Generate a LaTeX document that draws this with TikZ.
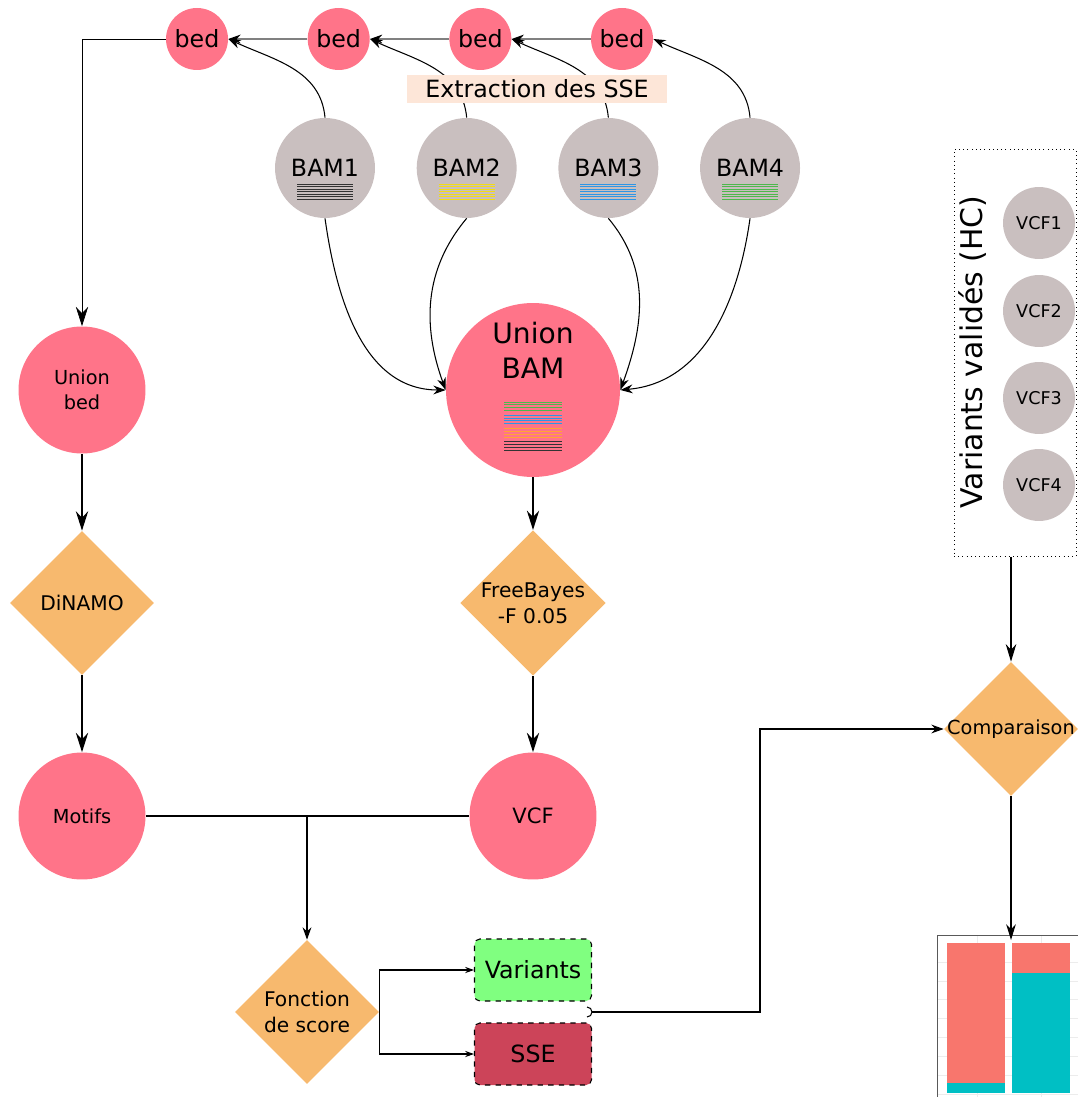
\documentclass[tikz,border=0pt]{standalone}
\usepackage{fontspec}
\setmainfont{DejaVu Sans}
\usetikzlibrary{arrows.meta,calc,positioning,shapes.geometric}
\definecolor{Pink}{HTML}{FF7489}
\definecolor{Taupe}{HTML}{C9BFBF}
\definecolor{Sand}{HTML}{F7B96E}
\definecolor{Peach}{HTML}{FDE6D8}
\definecolor{Mint}{HTML}{80FF80}
\definecolor{Crimson}{HTML}{CC4459}
\definecolor{Salmon}{HTML}{F8766D}
\definecolor{Cyan}{HTML}{00BFC4}
\definecolor{BamYellow}{HTML}{F2DC18}
\definecolor{BamBlue}{HTML}{2E96E6}
\definecolor{BamGreen}{HTML}{4DB84D}
\definecolor{BamOrange}{HTML}{FFA533}

\begin{document}
\begin{tikzpicture}[x=0.02cm,y=-0.02cm,>={Stealth[length=7pt,width=5pt]},
    bedc/.style={circle,fill=Pink,minimum size=1.24cm,inner sep=0pt,font=\fontsize{13.5}{16}\selectfont},
    bamc/.style={circle,fill=Taupe,minimum size=2cm,inner sep=0pt,font=\fontsize{13.5}{16}\selectfont},
    pinkc/.style={circle,fill=Pink,minimum size=2.54cm,inner sep=0pt,align=center,font=\fontsize{11}{14}\selectfont},
    vcfc/.style={circle,fill=Taupe,minimum size=1.44cm,inner sep=0pt,font=\fontsize{10}{12}\selectfont},
    tool/.style={diamond,fill=Sand,minimum width=2.88cm,minimum height=2.88cm,inner sep=0pt,align=center,font=\fontsize{11.5}{15}\selectfont},
    outbox/.style={draw,dashed,semithick,rounded corners=3pt,minimum width=2.34cm,minimum height=1.24cm,font=\fontsize{13.5}{16}\selectfont},
    flow/.style={thick,-{Stealth[length=11pt,width=7pt]}},
    feed/.style={semithick,->},
    tiny/.style={semithick,-{Stealth[length=5pt,width=3.5pt]}}]
  \useasboundingbox (0,0) rectangle (1078,1097);

  % SSE extraction per sample
  \node[bedc] (bed1) at (197,39) {bed};
  \node[bedc,right=1.58cm of bed1] (bed2) {bed};
  \node[bedc,right=1.58cm of bed2] (bed3) {bed};
  \node[bedc,right=1.58cm of bed3] (bed4) {bed};
  \node[bamc] (bam1) at (325,168) {BAM1};
  \node[bamc,right=0.82cm of bam1] (bam2) {BAM2};
  \node[bamc,right=0.82cm of bam2] (bam3) {BAM3};
  \node[bamc,right=0.82cm of bam3] (bam4) {BAM4};
  \foreach \n/\c in {1/black!80,2/BamYellow,3/BamBlue,4/BamGreen}
    \foreach \k in {0,...,6}
      \draw[\c,line width=0.5pt] ($(bam\n)+(-28,16+2.5*\k)$) -- ++(56,0);
  \foreach \a/\b in {bed2/bed1,bed3/bed2,bed4/bed3}{\draw[gray,semithick,-{Stealth[black,length=7pt,width=5pt]}] (\a) -- (\b);}
  \foreach \n in {1,...,4}{\draw[feed] (bam\n.north) to[out=95,in=-25] (bed\n.east);}
  \node[fill=Peach,minimum width=5.22cm,minimum height=0.56cm,inner sep=0pt,font=\fontsize{13.5}{16}\selectfont] (extract) at (537,89) {Extraction des SSE};

  % left branch: motifs
  \node[pinkc] (unionbed) at (82,390) {Union\\bed};
  \node[tool] (dinamo) at (82,603) {DiNAMO};
  \node[pinkc] (motifs) at (82,816) {Motifs};
  \draw[flow,thin] (bed1.west) -| (unionbed.north);
  \draw[flow] (unionbed) -- (dinamo);
  \draw[flow] (dinamo) -- (motifs);

  % middle branch: variant calling
  \node[circle,fill=Pink,minimum size=3.48cm] (unionbam) at (533,390) {};
  \node[font=\fontsize{16}{20}\selectfont,align=center] (unionbamtxt) at ($(unionbam)+(0,-40)$) {Union\\BAM};
  \foreach \c [count=\g from 0] in {BamGreen,BamBlue,BamOrange,black!80}
    \foreach \k in {0,...,3}
      \draw[\c,line width=0.5pt] ($(unionbam)+(-29,12+13.3*\g+2.8*\k)$) -- ++(58,0);
  \draw[feed] (bam1.south) to[out=-82,in=180] (unionbam.west);
  \draw[feed] (bam2.south) to[out=-130,in=110] (unionbam.west);
  \draw[feed] (bam3.south) to[out=-50,in=70] (unionbam.east);
  \draw[feed] (bam4.south) to[out=-98,in=5] (unionbam.east);
  \node[tool] (freebayes) at (533,603) {FreeBayes\\-F 0.05};
  \node[pinkc,font=\fontsize{12}{14}\selectfont] (vcf) at (533,816) {VCF};
  \draw[flow] (unionbam) -- (freebayes);
  \draw[flow] (freebayes) -- (vcf);

  % scoring
  \node[tool] (fonction) at (307,1012) {Fonction\\de score};
  \node[outbox,fill=Mint] (variants) at (533,970) {Variants};
  \node[outbox,fill=Crimson] (sse) at (533,1054) {SSE};
  \draw[semithick] (motifs) -- (vcf);
  \draw[feed] (fonction|-motifs) -- (fonction);
  \draw[tiny] (fonction.east) |- (variants);
  \draw[tiny] (fonction.east) |- (sse);

  % validated variants and comparison
  \node[draw,dotted,minimum width=2.44cm,minimum height=8.14cm] (hcbox) at (1015,353) {};
  \node[rotate=90,font=\fontsize{17}{20}\selectfont] (hclabel) at (973,352) {Variants validés (HC)};
  \foreach \i/\y in {1/223,2/311,3/398,4/485}
    \node[vcfc] (vcf\i) at (1039,\y) {VCF\i};
  \node[tool,minimum width=2.68cm,minimum height=2.68cm,font=\fontsize{11}{14}\selectfont] (comparaison) at (1011,729) {\makebox[0pt]{Comparaison}};
  \draw[semithick,-{Stealth[length=10pt,width=6pt]}] (comparaison|-hcbox.south) -- (comparaison.north);
  \coordinate (hop) at (587,1012);
  \coordinate (bend) at (760,729);
  \draw[semithick] ([yshift=0.1cm]hop) arc[start angle=90,end angle=-90,radius=0.1cm];
  \draw[feed] ([xshift=0.1cm]hop) -| (bend) -- (comparaison.west);

  % bar chart
  \coordinate (charttop) at (1011,940);
  \foreach \y in {962,981,999,1018,1037,1056,1075,1094}
    \draw[gray!15] (937,\y) -- (1078,\y);
  \foreach \x in {977,1041}
    \draw[gray!15] (\x,935) -- (\x,1097);
  \fill[Salmon] (947,943) rectangle (1005,1083);
  \fill[Cyan] (947,1083) rectangle (1005,1093);
  \fill[Salmon] (1012,943) rectangle (1070,973);
  \fill[Cyan] (1012,973) rectangle (1070,1093);
  \draw[gray!70!black] (937,1097) -- (937,935) -- (1078,935);
  \draw[semithick,-{Stealth[length=9pt,width=5.5pt]}] (comparaison.south) -- (charttop);
\end{tikzpicture}
\end{document}
